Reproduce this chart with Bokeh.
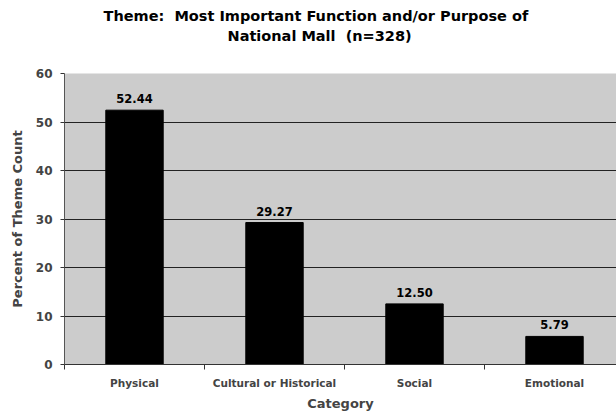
from bokeh.plotting import figure
from bokeh.models import FixedTicker, Range1d, Title, ColumnDataSource
from bokeh.embed import file_html
from bokeh.resources import INLINE
from bokeh.core.properties import value

categories = ["Physical", "Cultural or Historical", "Social", "Emotional"]
percents = [52.44, 29.27, 12.50, 5.79]
value_labels = ["52.44", "29.27", "12.50", "5.79"]
y_ticks = [0, 10, 20, 30, 40, 50, 60]
title_line1 = "Theme:\u00a0 Most Important Function and/or Purpose of"
title_line2 = "National Mall\u00a0 (n=328)"

FONT = "DejaVu Sans"

xs = [i + 0.5 for i in range(len(categories))]
src = ColumnDataSource(dict(x=xs, top=percents, lab=value_labels))

p = figure(width=616, height=413, output_backend="svg", toolbar_location=None,
           x_range=Range1d(0, 552 / 140), y_range=Range1d(0, 60),
           min_border_left=64, min_border_right=0, min_border_top=73,
           min_border_bottom=48)

p.background_fill_color = "#cccccc"
p.border_fill_color = "white"
p.outline_line_color = None

p.vbar(x="x", top="top", width=0.41, bottom=0, source=src,
       fill_color="black", line_color="black")
p.text(x="x", y="top", text="lab", source=src, text_align="center",
       text_baseline="bottom", y_offset=-7, text_font=value(FONT),
       text_font_style="bold", text_font_size="11.5px", text_color="black")

# axes
p.xaxis.ticker = FixedTicker(ticks=xs, minor_ticks=[0, 1, 2, 3, 4])
p.xaxis.major_label_overrides = {x: c for x, c in zip(xs, categories)}
p.xaxis.major_tick_line_color = None
p.xaxis.minor_tick_line_color = "#333333"
p.xaxis.minor_tick_out = 5
p.xaxis.minor_tick_in = 0
p.xaxis.axis_line_color = "#333333"
p.xaxis.major_label_text_font = FONT
p.xaxis.major_label_text_font_style = "bold"
p.xaxis.major_label_text_font_size = "10.5px"
p.xaxis.major_label_standoff = 6
p.xaxis.axis_label = "Category"
p.xaxis.axis_label_text_font = FONT
p.xaxis.axis_label_text_font_style = "bold"
p.xaxis.axis_label_text_font_size = "13px"
p.xaxis.axis_label_standoff = 4

p.yaxis.ticker = FixedTicker(ticks=y_ticks)
p.yaxis.minor_tick_line_color = None
p.yaxis.major_tick_out = 4
p.yaxis.major_tick_in = 0
p.yaxis.major_tick_line_color = "#333333"
p.yaxis.axis_line_color = "#555555"
p.yaxis.major_label_text_font = FONT
p.yaxis.major_label_text_font_style = "bold"
p.yaxis.major_label_text_font_size = "12px"
p.yaxis.major_label_standoff = 8
p.yaxis.axis_label = "Percent of Theme Count"
p.yaxis.axis_label_text_font = FONT
p.yaxis.axis_label_text_font_style = "bold"
p.yaxis.axis_label_text_font_size = "13px"
p.yaxis.axis_label_standoff = 8

p.xgrid.grid_line_color = None
p.ygrid.ticker = FixedTicker(ticks=y_ticks)
p.ygrid.grid_line_color = "#222222"
p.ygrid.grid_line_width = 1

spacer = Title(text="\u00a0", standoff=25, text_font_size="2px")
t2 = Title(text=title_line2, align="left", offset=163, standoff=2,
           text_font=FONT, text_font_style="bold", text_font_size="14.5px",
           text_color="black")
t1 = Title(text=title_line1, align="left", offset=39, standoff=2,
           text_font=FONT, text_font_style="bold",
           text_font_size="14.5px", text_color="black")
p.add_layout(spacer, "above")
p.add_layout(t2, "above")
p.add_layout(t1, "above")

open("out.html", "w").write(file_html(p, INLINE))
